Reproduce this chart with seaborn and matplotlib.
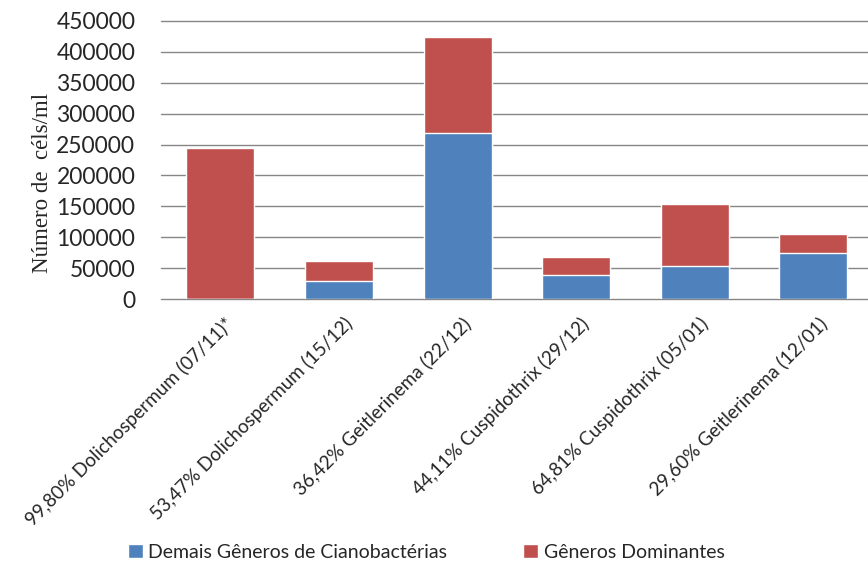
import numpy as np
import pandas as pd
import matplotlib
matplotlib.use('Agg')
import matplotlib.pyplot as plt
import matplotlib.transforms as mtransforms
from matplotlib.patches import Patch
import seaborn as sns

sns.set_style('white')
plt.rcParams['font.family'] = ['Lato', 'DejaVu Sans']

# ── dados ─────────────────────────────────────────────
categorias = ['99,80% Dolichospermum (07/11)*',
              '53,47% Dolichospermum (15/12)',
              '36,42% Geitlerinema (22/12)',
              '44,11% Cuspidothrix (29/12)',
              '64,81% Cuspidothrix (05/01)',
              '29,60% Geitlerinema (12/01)']
demais = [490, 28850, 269000, 38600, 54200, 74000]
dominantes = [244500, 33150, 154500, 30500, 99800, 31100]
yticks = [0, 50000, 100000, 150000, 200000, 250000, 300000, 350000, 400000, 450000]

AZUL = '#4F81BD'
VERMELHO = '#C0504D'

df = pd.DataFrame({'cat': categorias, 'demais': demais, 'dom': dominantes})
df['total'] = df['demais'] + df['dom']

fig = plt.figure(figsize=(8.68, 5.62), dpi=100)
ax = fig.add_axes([161/868, 1 - 299.3/562, 1 - 161/868, (299.3 - 20.7)/562])

# barras empilhadas: total (vermelho) por baixo, demais (azul) por cima
sns.barplot(data=df, x='cat', y='total', color=VERMELHO, width=0.573,
            saturation=1, ax=ax, zorder=2)
sns.barplot(data=df, x='cat', y='demais', color=AZUL, width=0.573,
            saturation=1, ax=ax, zorder=3)

ax.set_ylim(0, 450000)
ax.set_xlim(-0.5, 5.46)
ax.set_yticks(yticks)
ax.set_yticklabels([str(v) for v in yticks], fontsize=16.5)
ax.yaxis.grid(True, color='#868686', linewidth=1.0, zorder=1)
for gl in ax.get_ygridlines():
    gl.set_clip_on(False)
ax.set_axisbelow(True)
for s in ax.spines.values():
    s.set_visible(False)
ax.tick_params(axis='both', length=0)
ax.tick_params(axis='y', pad=18.5)

ax.set_xticks(range(len(categorias)))
ax.set_xticklabels(categorias, rotation=45, ha='right', va='top',
                   rotation_mode='anchor', fontsize=13.6)
off = mtransforms.ScaledTranslation(4/100, -10/100, fig.dpi_scale_trans)
for lab in ax.get_xticklabels():
    lab.set_transform(lab.get_transform() + off)

ax.set_xlabel('')
ax.set_ylabel('')
fig.text(43/868, 1 - 183/562, 'Número de  céls/ml', rotation=90,
         ha='center', va='center', fontsize=16.5,
         family=['Liberation Serif', 'DejaVu Serif'])

handles = [Patch(facecolor=AZUL, label='Demais Gêneros de Cianobactérias'),
           Patch(facecolor=VERMELHO, label='Gêneros Dominantes')]
fig.legend(handles=handles, loc='center left', ncol=2,
           bbox_to_anchor=(128/868, 1 - 552/562), frameon=False,
           fontsize=14, handlelength=0.75, handleheight=0.75,
           handletextpad=0.3, columnspacing=3.9, borderpad=0, borderaxespad=0)

fig.savefig('out.png', dpi=100)
